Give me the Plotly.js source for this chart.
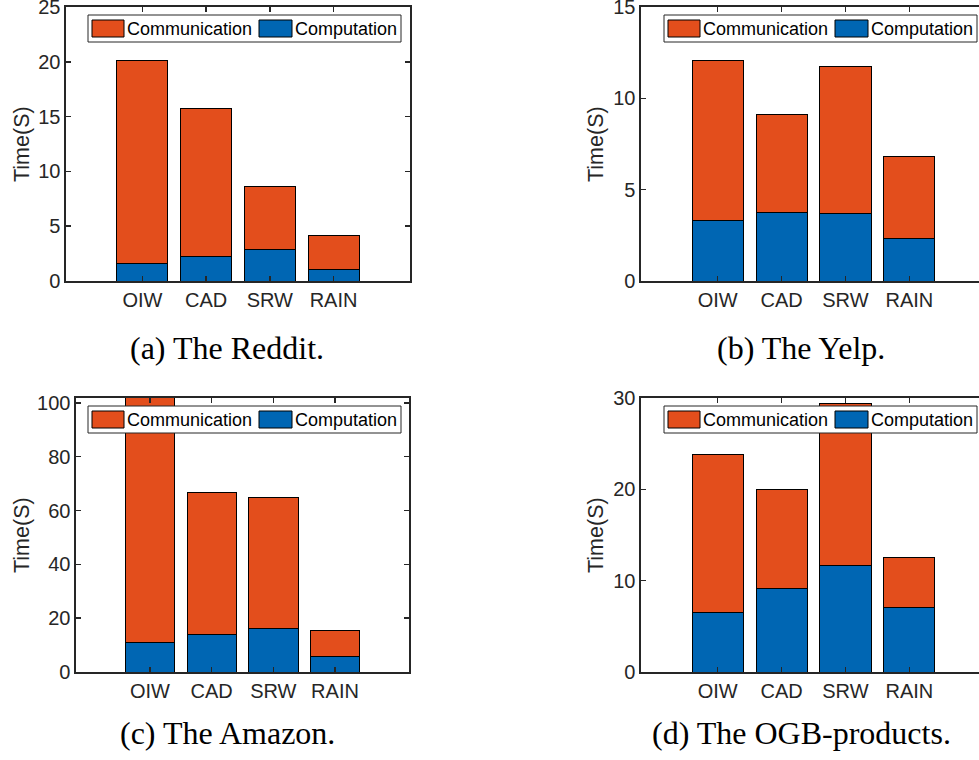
<!DOCTYPE html>
<html><head><meta charset="utf-8">
<script src="https://cdn.plot.ly/plotly-3.0.1.min.js"></script>
<style>html,body{margin:0;padding:0;overflow:hidden;background:#fff}</style>
</head><body><div id="chart" style="width:990px;height:760px"></div>
<script>
// ---- data ----
const categories = ['OIW', 'CAD', 'SRW', 'RAIN'];
const seriesNames = ['Communication', 'Computation'];

const redditComputation   = [1.58, 2.28, 2.89, 1.06];
const redditCommunication = [18.50, 13.45, 5.71, 3.07];

const yelpComputation   = [3.30, 3.74, 3.72, 2.33];
const yelpCommunication = [8.75, 5.39, 8.02, 4.47];

const amazonComputation   = [10.8, 14.1, 16.3, 5.6];
const amazonCommunication = [93.0, 52.6, 48.6, 9.8];

const ogbComputation   = [6.53, 9.16, 11.68, 7.04];
const ogbCommunication = [17.30, 10.77, 17.77, 5.51];

const yTicksReddit = [0, 5, 10, 15, 20, 25];
const yTicksYelp   = [0, 5, 10, 15];
const yTicksAmazon = [0, 20, 40, 60, 80, 100];
const yTicksOgb    = [0, 10, 20, 30];

const captions = ['(a) The Reddit.', '(b) The Yelp.', '(c) The Amazon.', '(d) The OGB-products.'];
const yTitle = 'Time(S)';

// ---- layout helpers ----
const W = 990, H = 760;
const fx = p => p / W;
const fy = p => 1 - p / H;

const panels = [
  {comp: redditComputation, comm: redditCommunication, ticks: yTicksReddit, yr: [0, 25],    px: [66, 410],  py: [7, 281],    legend: [88, 15],   ytx: 22,  cap: [227, 348]},
  {comp: yelpComputation,   comm: yelpCommunication,   ticks: yTicksYelp,   yr: [0, 15],    px: [641, 986], py: [7, 281],    legend: [664, 15],  ytx: 596, cap: [801, 348]},
  {comp: amazonComputation, comm: amazonCommunication, ticks: yTicksAmazon, yr: [0, 101.8], px: [76, 409],  py: [398, 672],  legend: [88, 406],  ytx: 22,  cap: [227, 733]},
  {comp: ogbComputation,    comm: ogbCommunication,    ticks: yTicksOgb,    yr: [0, 30],    px: [641, 986], py: [398, 672],  legend: [664, 406], ytx: 596, cap: [801, 733]}
];

const colComm = '#E34E1C';
const colComp = '#0066B3';
const axisCol = '#262626';
const sans = 'Liberation Sans, Arial, Helvetica, sans-serif';
const serif = 'Liberation Serif, Times New Roman, serif';

const traces = [];
const layout = {
  width: W, height: H,
  margin: {l: 0, r: 0, t: 0, b: 0},
  paper_bgcolor: '#fff', plot_bgcolor: '#fff',
  barmode: 'stack',
  showlegend: false,
  shapes: [],
  annotations: []
};

panels.forEach((p, i) => {
  const n = i === 0 ? '' : String(i + 1);
  const xa = 'x' + n, ya = 'y' + n;
  traces.push({
    type: 'bar', x: categories, y: p.comp, name: seriesNames[1], width: 0.8,
    xaxis: xa, yaxis: ya,
    marker: {color: colComp, line: {color: '#000', width: 1}}
  });
  traces.push({
    type: 'bar', x: categories, y: p.comm, name: seriesNames[0], width: 0.8,
    xaxis: xa, yaxis: ya,
    marker: {color: colComm, line: {color: '#000', width: 1}}
  });
  layout['xaxis' + n] = {
    domain: [fx(p.px[0]), fx(p.px[1])], anchor: ya,
    type: 'category', categoryorder: 'array', categoryarray: categories,
    range: [-1.2, 4.2], fixedrange: true,
    showline: true, linecolor: axisCol, linewidth: 1.6, mirror: 'ticks',
    ticks: 'inside', ticklen: 5, tickwidth: 1.6, tickcolor: axisCol,
    showgrid: false, zeroline: false, ticklabeloverflow: 'allow',
    tickfont: {family: sans, size: 20, color: axisCol}
  };
  layout['yaxis' + n] = {
    domain: [fy(p.py[1]), fy(p.py[0])], anchor: xa,
    range: p.yr, tickvals: p.ticks, ticktext: p.ticks.map(String), fixedrange: true,
    showline: true, linecolor: axisCol, linewidth: 1.6, mirror: 'ticks',
    ticks: 'inside', ticklen: 5, tickwidth: 1.6, tickcolor: axisCol,
    showgrid: false, zeroline: false, ticklabeloverflow: 'allow',
    tickfont: {family: sans, size: 20, color: axisCol}
  };
  // legend box (drawn to mimic MATLAB legend)
  const L = p.legend[0], T = p.legend[1];
  layout.shapes.push({type: 'rect', xref: 'paper', yref: 'paper', layer: 'above',
    x0: fx(L), x1: fx(L + 313), y0: fy(T + 27), y1: fy(T),
    fillcolor: '#fff', line: {color: axisCol, width: 1}});
  layout.shapes.push({type: 'rect', xref: 'paper', yref: 'paper', layer: 'above',
    x0: fx(L + 4), x1: fx(L + 36), y0: fy(T + 22), y1: fy(T + 5),
    fillcolor: colComm, line: {color: '#000', width: 1}});
  layout.shapes.push({type: 'rect', xref: 'paper', yref: 'paper', layer: 'above',
    x0: fx(L + 171), x1: fx(L + 204), y0: fy(T + 22), y1: fy(T + 5),
    fillcolor: colComp, line: {color: '#000', width: 1}});
  layout.annotations.push({xref: 'paper', yref: 'paper', x: fx(L + 37), y: fy(T + 14),
    xanchor: 'left', yanchor: 'middle', showarrow: false, text: seriesNames[0],
    font: {family: sans, size: 18, color: '#000'}});
  layout.annotations.push({xref: 'paper', yref: 'paper', x: fx(L + 205), y: fy(T + 14),
    xanchor: 'left', yanchor: 'middle', showarrow: false, text: seriesNames[1],
    font: {family: sans, size: 18, color: '#000'}});
  // y-axis title
  layout.annotations.push({xref: 'paper', yref: 'paper', x: fx(p.ytx), y: fy((p.py[0] + p.py[1]) / 2),
    xanchor: 'center', yanchor: 'middle', showarrow: false, text: yTitle, textangle: -90,
    font: {family: sans, size: 21.5, color: axisCol}});
  // caption
  layout.annotations.push({xref: 'paper', yref: 'paper', x: fx(p.cap[0]), y: fy(p.cap[1]),
    xanchor: 'center', yanchor: 'middle', showarrow: false, text: captions[i],
    font: {family: serif, size: 32, color: '#000'}});
});

Plotly.newPlot('chart', traces, layout, {staticPlot: true, displayModeBar: false});
</script>
</body></html>
